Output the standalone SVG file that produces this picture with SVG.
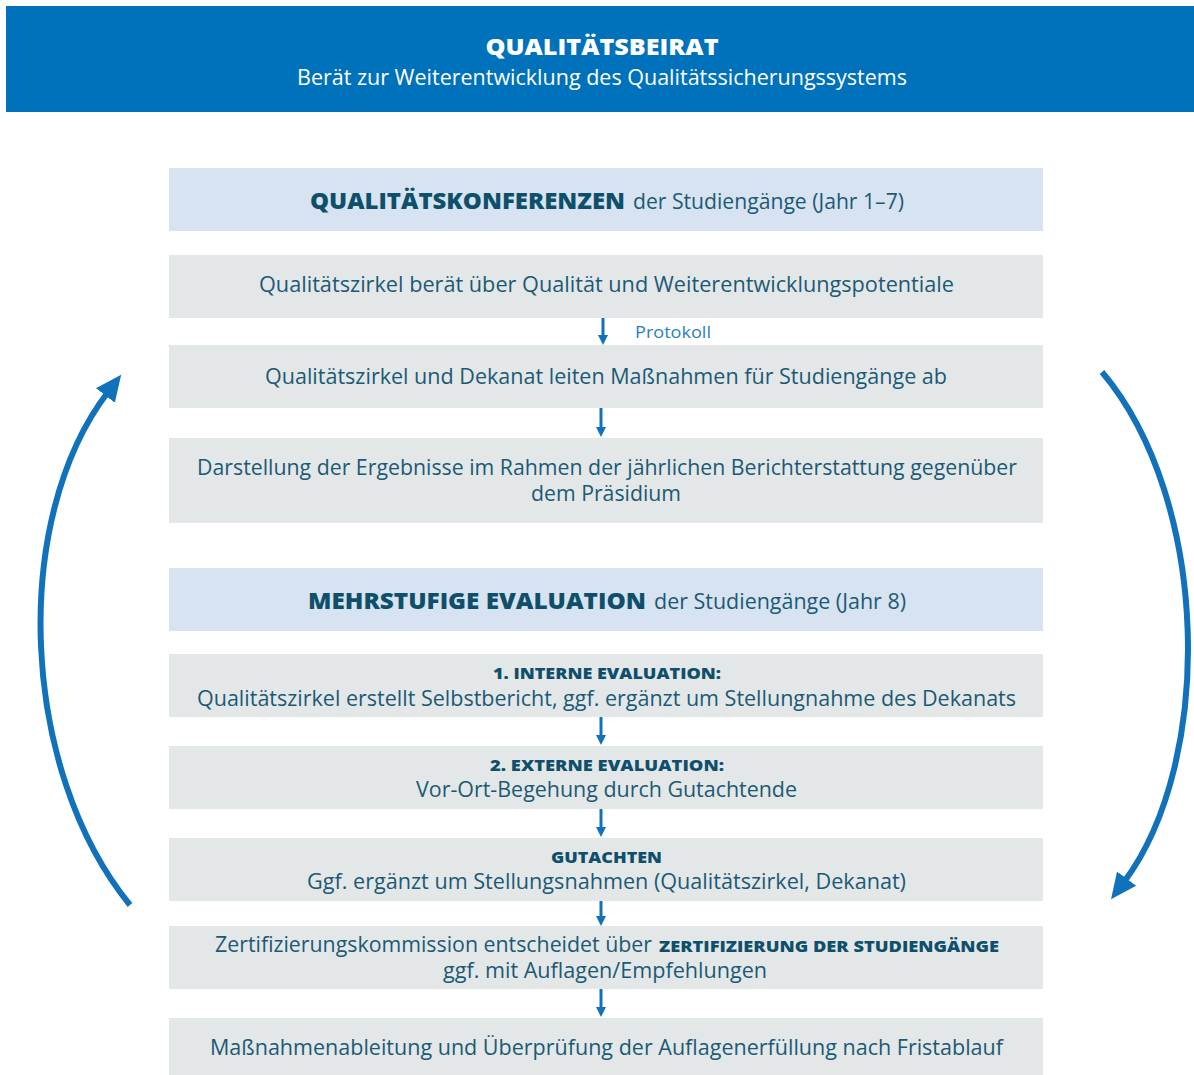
<svg xmlns="http://www.w3.org/2000/svg" width="1194" height="1075" viewBox="0 0 1194 1075">
<defs>
<style>
.hdr{fill:#0071bb}
.blue{fill:#d7e3f0}
.grey{fill:#e4e7e8}
.t{font-family:"Open Sans","Noto Sans",sans-serif;font-size:21px;fill:#1b5a75}
.b{font-family:"Open Sans","Noto Sans",sans-serif;font-weight:800;fill:#0e4f6c}
.w{font-family:"Open Sans","Noto Sans",sans-serif;fill:#ffffff}
.p{font-family:"Open Sans","Noto Sans",sans-serif;font-size:17px;fill:#2a7fc1}
.conn{stroke:#1172bb;fill:none}
</style>
<marker id="ah" viewBox="0 0 10 10" refX="1" refY="5" markerWidth="10" markerHeight="10" markerUnits="userSpaceOnUse" orient="auto">
<path d="M0,0 L10,5 L0,10 Z" fill="#1172bb"/>
</marker>
<marker id="big" viewBox="0 0 24 24" refX="4" refY="12" markerWidth="26" markerHeight="26" markerUnits="userSpaceOnUse" orient="auto">
<path d="M0,1 L24,12 L0,23 Z" fill="#1172bb"/>
</marker>
</defs>
<rect width="1194" height="1075" fill="#ffffff"/>

<g id="header">
<rect class="hdr" x="6" y="6" width="1188" height="106"/>
<text class="w" x="602" y="55" text-anchor="middle" font-size="23" font-weight="800" textLength="233" lengthAdjust="spacingAndGlyphs">QUALITÄTSBEIRAT</text>
<text class="w" x="602" y="85" text-anchor="middle" font-size="21" textLength="610" lengthAdjust="spacingAndGlyphs">Berät zur Weiterentwicklung des Qualitätssicherungssystems</text>
</g>

<g id="qk-title">
<rect class="blue" x="169" y="168" width="874" height="63"/>
<text class="b" x="310" y="209" font-size="22" textLength="315" lengthAdjust="spacingAndGlyphs">QUALITÄTSKONFERENZEN</text>
<text class="t" x="633" y="209" textLength="271" lengthAdjust="spacingAndGlyphs">der Studiengänge (Jahr 1–7)</text>
</g>

<g id="qk-1">
<rect class="grey" x="169" y="255" width="874" height="63"/>
<text class="t" x="259" y="292" textLength="695" lengthAdjust="spacingAndGlyphs">Qualitätszirkel berät über Qualität und Weiterentwicklungspotentiale</text>
</g>

<g id="qk-2">
<rect class="grey" x="169" y="345" width="874" height="63"/>
<text class="t" x="265" y="384" textLength="682" lengthAdjust="spacingAndGlyphs">Qualitätszirkel und Dekanat leiten Maßnahmen für Studiengänge ab</text>
</g>

<g id="qk-3">
<rect class="grey" x="169" y="438" width="874" height="85"/>
<text class="t" x="197" y="475" textLength="820" lengthAdjust="spacingAndGlyphs">Darstellung der Ergebnisse im Rahmen der jährlichen Berichterstattung gegenüber</text>
<text class="t" x="531" y="501" textLength="150" lengthAdjust="spacingAndGlyphs">dem Präsidium</text>
</g>

<g id="me-title">
<rect class="blue" x="169" y="568" width="874" height="63"/>
<text class="b" x="308" y="609" font-size="22" textLength="338" lengthAdjust="spacingAndGlyphs">MEHRSTUFIGE EVALUATION</text>
<text class="t" x="654" y="609" textLength="252" lengthAdjust="spacingAndGlyphs">der Studiengänge (Jahr 8)</text>
</g>

<g id="me-1">
<rect class="grey" x="169" y="654" width="874" height="63"/>
<text class="b" x="493" y="679" font-size="16" textLength="228" lengthAdjust="spacingAndGlyphs">1. INTERNE EVALUATION:</text>
<text class="t" x="197" y="706" textLength="819" lengthAdjust="spacingAndGlyphs">Qualitätszirkel erstellt Selbstbericht, ggf. ergänzt um Stellungnahme des Dekanats</text>
</g>

<g id="me-2">
<rect class="grey" x="169" y="746" width="874" height="63"/>
<text class="b" x="490" y="771" font-size="16" textLength="234" lengthAdjust="spacingAndGlyphs">2. EXTERNE EVALUATION:</text>
<text class="t" x="416" y="797" textLength="381" lengthAdjust="spacingAndGlyphs">Vor-Ort-Begehung durch Gutachtende</text>
</g>

<g id="me-3">
<rect class="grey" x="169" y="838" width="874" height="63"/>
<text class="b" x="551" y="863" font-size="16" textLength="111" lengthAdjust="spacingAndGlyphs">GUTACHTEN</text>
<text class="t" x="307" y="889" textLength="599" lengthAdjust="spacingAndGlyphs">Ggf. ergänzt um Stellungsnahmen (Qualitätszirkel, Dekanat)</text>
</g>

<g id="me-4">
<rect class="grey" x="169" y="926" width="874" height="63"/>
<text class="t" x="215" y="952" textLength="437" lengthAdjust="spacingAndGlyphs">Zertifizierungskommission entscheidet über</text>
<text class="b" x="659" y="952" font-size="16" textLength="340" lengthAdjust="spacingAndGlyphs">ZERTIFIZIERUNG DER STUDIENGÄNGE</text>
<text class="t" x="443" y="978" textLength="324" lengthAdjust="spacingAndGlyphs">ggf. mit Auflagen/Empfehlungen</text>
</g>

<g id="me-5">
<rect class="grey" x="169" y="1018" width="874" height="57"/>
<text class="t" x="210" y="1055" textLength="793" lengthAdjust="spacingAndGlyphs">Maßnahmenableitung und Überprüfung der Auflagenerfüllung nach Fristablauf</text>
</g>

<g id="connectors">
<path class="conn" stroke-width="3" marker-end="url(#ah)" d="M603,318 V336"/>
<text class="p" x="635" y="338" textLength="76" lengthAdjust="spacingAndGlyphs">Protokoll</text>
<path class="conn" stroke-width="3" marker-end="url(#ah)" d="M601,408 V428"/>
<path class="conn" stroke-width="3" marker-end="url(#ah)" d="M601,717 V736"/>
<path class="conn" stroke-width="3" marker-end="url(#ah)" d="M601,809 V828"/>
<path class="conn" stroke-width="3" marker-end="url(#ah)" d="M601,901 V917"/>
<path class="conn" stroke-width="3" marker-end="url(#ah)" d="M601,989 V1008"/>
<path class="conn" stroke-width="6" marker-end="url(#big)" d="M130,905 C20,770 10,520 108,392"/>
<path class="conn" stroke-width="6" marker-end="url(#big)" d="M1102,372 C1210,500 1215,760 1124,882"/>
</g>
</svg>
